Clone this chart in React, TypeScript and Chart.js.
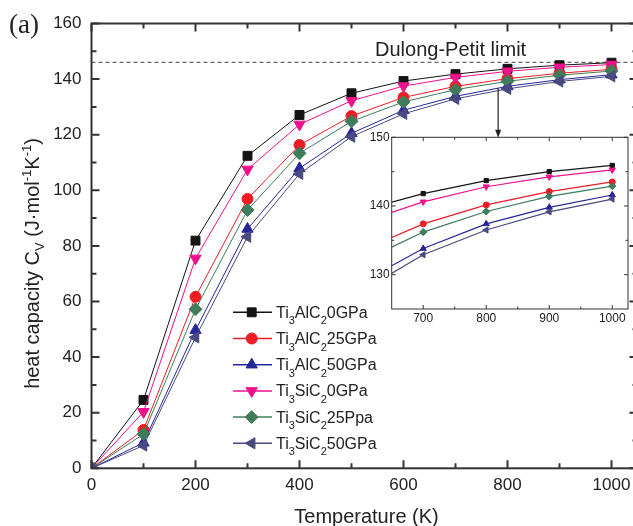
import React, { useEffect, useRef } from 'react';
import { Chart, registerables } from 'chart.js';

Chart.register(...registerables);

// ---------------- data ----------------
const temperatures = [0, 100, 200, 300, 400, 500, 600, 700, 800, 900, 1000];

const ti3alc2_0GPa = [0, 24.6, 81.9, 112.4, 127.1, 134.9, 139.3, 141.8, 143.7, 145.0, 145.9];
const ti3alc2_25GPa = [0, 13.8, 61.7, 96.9, 116.3, 126.7, 133.4, 137.4, 140.15, 142.1, 143.5];
const ti3alc2_50GPa = [0, 9.2, 49.7, 86.1, 107.9, 120.5, 128.8, 133.8, 137.4, 139.8, 141.6];
const ti3sic2_0GPa = [0, 20.3, 75.5, 107.5, 123.7, 132.2, 137.5, 140.6, 142.8, 144.25, 145.25];
const ti3sic2_25GPa = [0, 12.3, 57.2, 92.9, 113.3, 124.8, 131.8, 136.2, 139.2, 141.4, 142.9];
const ti3sic2_50GPa = [0, 8.2, 47.1, 83.3, 105.9, 119.3, 127.5, 132.9, 136.5, 139.15, 141.0];

// "_x" marks a one-character subscript
const seriesNames = [
  'Ti_3AlC_20GPa',
  'Ti_3AlC_225GPa',
  'Ti_3AlC_250GPa',
  'Ti_3SiC_20GPa',
  'Ti_3SiC_225Ppa',
  'Ti_3SiC_250GPa',
];
const seriesValues = [ti3alc2_0GPa, ti3alc2_25GPa, ti3alc2_50GPa, ti3sic2_0GPa, ti3sic2_25GPa, ti3sic2_50GPa];
const seriesColors = ['#141414', '#f01c24', '#26269a', '#f0108c', '#3f7c5c', '#4a4a80'];
const seriesPointStyles = ['rect', 'circle', 'triangle', 'triangle', 'rectRot', 'triangle'];
const seriesPointRotations = [0, 0, 0, 180, 0, -90];
const mainPointRadii = [6.3, 5.5, 6.5, 6.5, 6.5, 6.5];
const insetPointRadii = [3, 3, 3.6, 3.6, 3.6, 3.6];

const mainXTicks = [0, 200, 400, 600, 800, 1000];
const mainXMinor = [100, 300, 500, 700, 900];
const mainYTicks = [0, 20, 40, 60, 80, 100, 120, 140, 160];
const mainYMinor = [10, 30, 50, 70, 90, 110, 130, 150];
const insetXTicks = [700, 800, 900, 1000];
const insetXMinor = [750, 850, 950];
const insetYTicks = [130, 140, 150];
const insetYMinor = [135, 145];

const DULONG_PETIT = 146;
const ARROW_X = 782;
const ARROW_FROM = 136.8;
const ARROW_TO = 118.9;

const FONT = "'Liberation Sans', Arial, sans-serif";
const TEXT = '#222';
const AXIS = '#333';

// ---------------- helpers ----------------
function drawMarker(ctx: CanvasRenderingContext2D, style: string, rotation: number, x: number, y: number, r: number, color: string) {
  ctx.save();
  ctx.fillStyle = color;
  ctx.strokeStyle = color;
  ctx.lineWidth = 1;
  ctx.beginPath();
  let rad = (rotation * Math.PI) / 180;
  if (style === 'circle') {
    ctx.arc(x, y, r, 0, Math.PI * 2);
  } else if (style === 'rect') {
    const s = r * Math.SQRT1_2;
    ctx.rect(x - s, y - s, 2 * s, 2 * s);
  } else if (style === 'rectRot') {
    ctx.moveTo(x, y - r);
    ctx.lineTo(x + r, y);
    ctx.lineTo(x, y + r);
    ctx.lineTo(x - r, y);
  } else {
    for (let k = 0; k < 3; k++) {
      const px = x + Math.sin(rad) * r;
      const py = y - Math.cos(rad) * r;
      if (k === 0) ctx.moveTo(px, py);
      else ctx.lineTo(px, py);
      rad += (2 * Math.PI) / 3;
    }
  }
  ctx.closePath();
  ctx.fill();
  ctx.stroke();
  ctx.restore();
}

// draw text with _x subscripts
function drawSubText(ctx: CanvasRenderingContext2D, s: string, x: number, y: number, size: number, subSize: number, subDy: number) {
  let cx = x;
  let i = 0;
  while (i < s.length) {
    if (s[i] === '_') {
      ctx.font = `${subSize}px ${FONT}`;
      ctx.fillText(s[i + 1], cx, y + subDy);
      cx += ctx.measureText(s[i + 1]).width;
      i += 2;
    } else {
      let j = i;
      while (j < s.length && s[j] !== '_') j++;
      const part = s.slice(i, j);
      ctx.font = `${size}px ${FONT}`;
      ctx.fillText(part, cx, y);
      cx += ctx.measureText(part).width;
      i = j;
    }
  }
}

function drawTicks(chart: any, xs: { major: number[]; minor: number[] }, ys: { major: number[]; minor: number[] }, majorLen: number, minorLen: number, lw: number) {
  const ctx = chart.ctx as CanvasRenderingContext2D;
  const { left, right, top, bottom } = chart.chartArea;
  const xScale = chart.scales.x;
  const yScale = chart.scales.y;
  ctx.save();
  ctx.strokeStyle = AXIS;
  ctx.lineWidth = lw;
  ctx.beginPath();
  const xt = (v: number, len: number) => {
    const px = xScale.getPixelForValue(v);
    ctx.moveTo(px, bottom);
    ctx.lineTo(px, bottom - len);
    ctx.moveTo(px, top);
    ctx.lineTo(px, top + len);
  };
  const yt = (v: number, len: number) => {
    const py = yScale.getPixelForValue(v);
    ctx.moveTo(left, py);
    ctx.lineTo(left + len, py);
    ctx.moveTo(right, py);
    ctx.lineTo(right - len, py);
  };
  xs.major.forEach((v) => xt(v, majorLen));
  xs.minor.forEach((v) => xt(v, minorLen));
  ys.major.forEach((v) => yt(v, majorLen));
  ys.minor.forEach((v) => yt(v, minorLen));
  ctx.stroke();
  ctx.strokeRect(left, top, right - left, bottom - top);
  ctx.restore();
}

const mainPlugin = {
  id: 'mainDecor',
  beforeDatasetsDraw(chart: any) {
    const ctx = chart.ctx as CanvasRenderingContext2D;
    const { left, right } = chart.chartArea;
    const py = chart.scales.y.getPixelForValue(DULONG_PETIT);
    ctx.save();
    ctx.strokeStyle = '#666';
    ctx.lineWidth = 1.2;
    ctx.setLineDash([4, 3]);
    ctx.beginPath();
    ctx.moveTo(left, py);
    ctx.lineTo(right, py);
    ctx.stroke();
    ctx.restore();
  },
  afterDraw(chart: any) {
    const ctx = chart.ctx as CanvasRenderingContext2D;
    drawTicks(chart, { major: mainXTicks, minor: mainXMinor }, { major: mainYTicks, minor: mainYMinor }, 8, 5, 2);
    const xScale = chart.scales.x;
    const yScale = chart.scales.y;

    ctx.save();
    ctx.fillStyle = TEXT;
    ctx.textBaseline = 'alphabetic';

    // panel label
    ctx.font = "27px 'Liberation Serif', 'Times New Roman', serif";
    ctx.textAlign = 'left';
    ctx.fillText('(a)', 9, 32.5);

    // Dulong-Petit text
    ctx.font = `20px ${FONT}`;
    ctx.fillText('Dulong-Petit limit', 375, 56);

    // x title
    ctx.textAlign = 'center';
    ctx.font = `20px ${FONT}`;
    ctx.fillText('Temperature (K)', 366.5, 523);

    // y title with sub/superscripts
    ctx.save();
    ctx.translate(39, 263.5);
    ctx.rotate(-Math.PI / 2);
    ctx.textAlign = 'left';
    const parts: [string, string][] = [
      ['heat capacity C', 'n'],
      ['V', 'sub'],
      [' (J\u00b7mol', 'n'],
      ['-1', 'sup'],
      ['K', 'n'],
      ['-1', 'sup'],
      [')', 'n'],
    ];
    let total = 0;
    parts.forEach(([t, k]) => {
      ctx.font = k === 'n' ? `20px ${FONT}` : `13px ${FONT}`;
      total += ctx.measureText(t).width;
    });
    let cx = -total / 2;
    parts.forEach(([t, k]) => {
      ctx.font = k === 'n' ? `20px ${FONT}` : `13px ${FONT}`;
      const dy = k === 'sub' ? 5 : k === 'sup' ? -8 : 0;
      ctx.fillText(t, cx, dy);
      cx += ctx.measureText(t).width;
    });
    ctx.restore();

    // arrow
    const ax = xScale.getPixelForValue(ARROW_X);
    const ay0 = yScale.getPixelForValue(ARROW_FROM);
    const ay1 = yScale.getPixelForValue(ARROW_TO);
    ctx.strokeStyle = '#333';
    ctx.fillStyle = '#222';
    ctx.lineWidth = 1.3;
    ctx.beginPath();
    ctx.moveTo(ax, ay0);
    ctx.lineTo(ax, ay1 - 7);
    ctx.stroke();
    ctx.beginPath();
    ctx.moveTo(ax - 3, ay1 - 8);
    ctx.lineTo(ax + 3, ay1 - 8);
    ctx.lineTo(ax, ay1);
    ctx.closePath();
    ctx.fill();

    // legend
    ctx.textAlign = 'left';
    for (let i = 0; i < seriesNames.length; i++) {
      const y = 312.3 + i * 26.2;
      ctx.strokeStyle = seriesColors[i];
      ctx.lineWidth = 1.5;
      ctx.beginPath();
      ctx.moveTo(233, y);
      ctx.lineTo(272, y);
      ctx.stroke();
      drawMarker(ctx, seriesPointStyles[i], seriesPointRotations[i], 251.7, y, mainPointRadii[i], seriesColors[i]);
      ctx.fillStyle = TEXT;
      drawSubText(ctx, seriesNames[i], 276, y + 5.5, 16, 11, 6.5);
    }
    ctx.restore();
  },
};

const insetPlugin = {
  id: 'insetDecor',
  afterDraw(chart: any) {
    drawTicks(chart, { major: insetXTicks, minor: insetXMinor }, { major: insetYTicks, minor: insetYMinor }, 4, 2.5, 1);
  },
};

function makeDatasets(radii: number[], lw: number) {
  return seriesNames.map((name, i) => ({
    label: name,
    data: temperatures.map((t, k) => ({ x: t, y: seriesValues[i][k] })),
    borderColor: seriesColors[i],
    backgroundColor: seriesColors[i],
    borderWidth: lw,
    pointStyle: seriesPointStyles[i] as any,
    rotation: seriesPointRotations[i],
    pointRadius: radii[i],
    pointBorderWidth: 1,
    pointBackgroundColor: seriesColors[i],
    pointBorderColor: seriesColors[i],
    tension: 0,
    order: seriesNames.length - i,
  }));
}

const plainLabel = (v: any) => String(v);

export default function App() {
  const mainRef = useRef<HTMLCanvasElement>(null);
  const insetRef = useRef<HTMLCanvasElement>(null);

  useEffect(() => {
    Chart.defaults.font.family = FONT;
    const MAIN_W = 660;
    const H = 526;
    const main = new Chart(mainRef.current!, {
      type: 'line',
      data: { datasets: makeDatasets(mainPointRadii, 1) as any },
      options: {
        responsive: false,
        maintainAspectRatio: false,
        animation: false,
        layout: { padding: { left: 0, top: 23.5, right: MAIN_W - 637.5, bottom: 0 } },
        plugins: { legend: { display: false }, tooltip: { enabled: false } },
        scales: {
          x: {
            type: 'linear',
            min: 0,
            max: 1050,
            afterBuildTicks: (s: any) => {
              s.ticks = mainXTicks.map((v) => ({ value: v }));
            },
            afterFit: (s: any) => {
              s.height = H - 468.3;
            },
            grid: { display: false, drawTicks: false },
            border: { display: false },
            ticks: { font: { size: 17 }, color: TEXT, padding: 7, maxRotation: 0, autoSkip: false, callback: plainLabel },
          },
          y: {
            type: 'linear',
            min: 0,
            max: 160,
            afterBuildTicks: (s: any) => {
              s.ticks = mainYTicks.map((v) => ({ value: v }));
            },
            afterFit: (s: any) => {
              s.width = 91.5;
            },
            grid: { display: false, drawTicks: false },
            border: { display: false },
            ticks: { font: { size: 17 }, color: TEXT, padding: 10, autoSkip: false, callback: plainLabel },
          },
        },
      },
      plugins: [mainPlugin],
    });

    const inset = new Chart(insetRef.current!, {
      type: 'line',
      data: { datasets: makeDatasets(insetPointRadii, 1.2) as any },
      options: {
        responsive: false,
        maintainAspectRatio: false,
        animation: false,
        layout: { padding: { left: 0, top: 12.3, right: 4, bottom: 0 } },
        plugins: { legend: { display: false }, tooltip: { enabled: false } },
        scales: {
          x: {
            type: 'linear',
            min: 650,
            max: 1025,
            afterBuildTicks: (s: any) => {
              s.ticks = insetXTicks.map((v) => ({ value: v }));
            },
            afterFit: (s: any) => {
              s.height = 31;
            },
            grid: { display: false, drawTicks: false },
            border: { display: false },
            ticks: { font: { size: 12 }, color: TEXT, padding: 2, maxRotation: 0, autoSkip: false, callback: plainLabel },
          },
          y: {
            type: 'linear',
            min: 125,
            max: 150,
            afterBuildTicks: (s: any) => {
              s.ticks = insetYTicks.map((v) => ({ value: v }));
            },
            afterFit: (s: any) => {
              s.width = 41.7;
            },
            grid: { display: false, drawTicks: false },
            border: { display: false },
            ticks: { font: { size: 12 }, color: TEXT, padding: 2, autoSkip: false, callback: plainLabel },
          },
        },
      },
      plugins: [insetPlugin],
    });

    return () => {
      main.destroy();
      inset.destroy();
    };
  }, []);

  return (
    <div style={{ position: 'absolute', left: 0, top: 0, width: 633, height: 526, overflow: 'hidden', background: '#fff' }}>
      <canvas ref={mainRef} width={660} height={526} style={{ position: 'absolute', left: 0, top: 0, width: 660, height: 526 }} />
      <canvas ref={insetRef} width={283} height={215} style={{ position: 'absolute', left: 350, top: 125, width: 283, height: 215 }} />
    </div>
  );
}
